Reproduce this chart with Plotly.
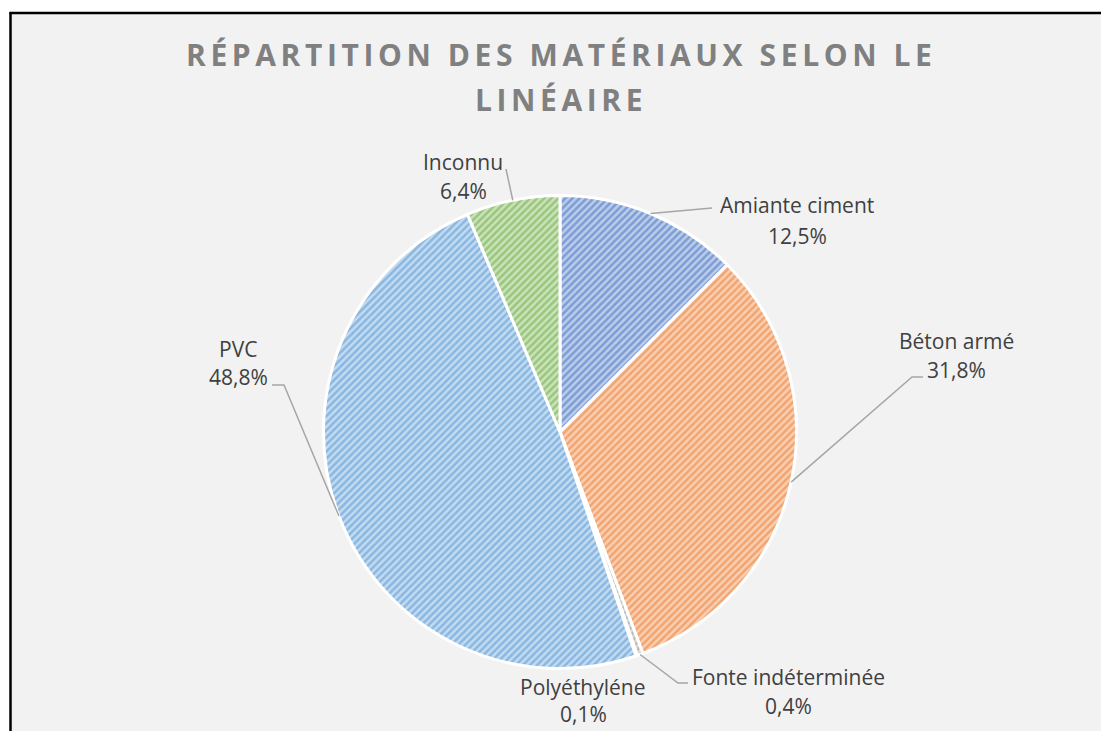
import math
import plotly.graph_objects as go

# ---- data ----
labels = ["Amiante ciment", "Béton armé", "Fonte indéterminée", "Polyéthyléne", "PVC", "Inconnu"]
values = [12.5, 31.8, 0.4, 0.1, 48.8, 6.4]
title_lines = ["RÉPARTITION DES MATÉRIAUX SELON LE", "LINÉAIRE"]

# ---- style ----
fg_colors = ["#3E6BBF", "#EC7A2C", "#9A9A9A", "#F5B800", "#4F93D2", "#68A83E"]
bg_colors = ["#BCCDEA", "#F9CFB3", "#DADADA", "#FFE6A0", "#C3DBF0", "#CAE3BA"]

W, H = 1101, 731
CX, CY, R = 560, 432, 236.5

def px(x):
    return x / W

def py(y):
    return 1 - y / H

# label positions (center x, center y of name line, center y of percent line)
label_pos = {
    "Amiante ciment": (797, 205, 236),
    "Béton armé": (956, 341, 370),
    "Fonte indéterminée": (788, 677, 706),
    "Polyéthyléne": (583, 687, 714),
    "PVC": (238, 349, 377),
    "Inconnu": (463, 162, 191),
}
# leader line elbow points (label side)
leader_pts = {
    "Amiante ciment": [(712, 208)],
    "Béton armé": [(912, 377), (923, 377)],
    "Fonte indéterminée": [(678, 683), (688, 683)],
    "PVC": [(284, 385), (272, 385)],
    "Inconnu": [(506, 169)],
}

fig = go.Figure()
fig.add_trace(go.Pie(
    labels=labels,
    values=values,
    sort=False,
    direction="clockwise",
    rotation=0,
    textinfo="none",
    hoverinfo="label+percent",
    showlegend=False,
    domain=dict(x=[px(CX - R), px(CX + R)], y=[py(CY + R), py(CY - R)]),
    marker=dict(
        colors=bg_colors,
        line=dict(color="white", width=3),
        pattern=dict(shape="/", fgcolor=fg_colors, size=5, solidity=0.5, fillmode="overlay"),
    ),
))

shapes = []
# white margin strips outside the chart frame, then the frame's top and left borders
shapes.append(dict(type="rect", xref="paper", yref="paper", layer="below",
                   x0=0, x1=1, y0=py(12), y1=1, fillcolor="white", line=dict(width=0)))
shapes.append(dict(type="rect", xref="paper", yref="paper", layer="below",
                   x0=0, x1=px(10), y0=0, y1=1, fillcolor="white", line=dict(width=0)))
shapes.append(dict(type="line", xref="paper", yref="paper", layer="below",
                   x0=px(9.5), x1=1, y0=py(13), y1=py(13), line=dict(color="black", width=2.5)))
shapes.append(dict(type="line", xref="paper", yref="paper", layer="below",
                   x0=px(10.5), x1=px(10.5), y0=0, y1=py(12), line=dict(color="black", width=2.5)))

# leader lines computed from slice mid-angles
total = sum(values)
cum = 0.0
for lab, v in zip(labels, values):
    mid = (cum + v / 2) / total
    cum += v
    if lab not in leader_pts:
        continue
    ang = 2 * math.pi * mid
    sx = CX + R * math.sin(ang)
    sy = CY - R * math.cos(ang)
    pts = [(sx, sy)] + leader_pts[lab]
    path = "M " + " L ".join(f"{px(x):.5f},{py(y):.5f}" for x, y in pts)
    shapes.append(dict(type="path", xref="paper", yref="paper", path=path,
                       line=dict(color="#A6A6A6", width=1.5)))

annotations = []
lab_font = dict(family="Open Sans", size=21, color="#404040")
for lab, v in zip(labels, values):
    x, y1, y2 = label_pos[lab]
    pct = f"{v:.1f}".replace(".", ",") + "%"
    annotations.append(dict(x=px(x), y=py(y1), xref="paper", yref="paper", text=lab,
                            showarrow=False, font=lab_font, xanchor="center", yanchor="middle"))
    annotations.append(dict(x=px(x), y=py(y2), xref="paper", yref="paper", text=pct,
                            showarrow=False, font=lab_font, xanchor="center", yanchor="middle"))

title_font = dict(family="Open Sans", size=30, color="#808080")
for t, yc in zip(title_lines, [54, 100]):
    annotations.append(dict(
        x=px(561), y=py(yc), xref="paper", yref="paper",
        text=f"<b><span style='letter-spacing:4.6px'>{t}</span></b>",
        showarrow=False, font=title_font, xanchor="center", yanchor="middle"))

fig.update_layout(
    width=W, height=H,
    margin=dict(l=0, r=0, t=0, b=0),
    paper_bgcolor="#F2F2F2",
    plot_bgcolor="#F2F2F2",
    shapes=shapes,
    annotations=annotations,
)

fig.write_html(
    "out.html",
    config={"displayModeBar": False},
    post_script="document.body.style.margin='0px';document.body.style.overflow='hidden';",
)
